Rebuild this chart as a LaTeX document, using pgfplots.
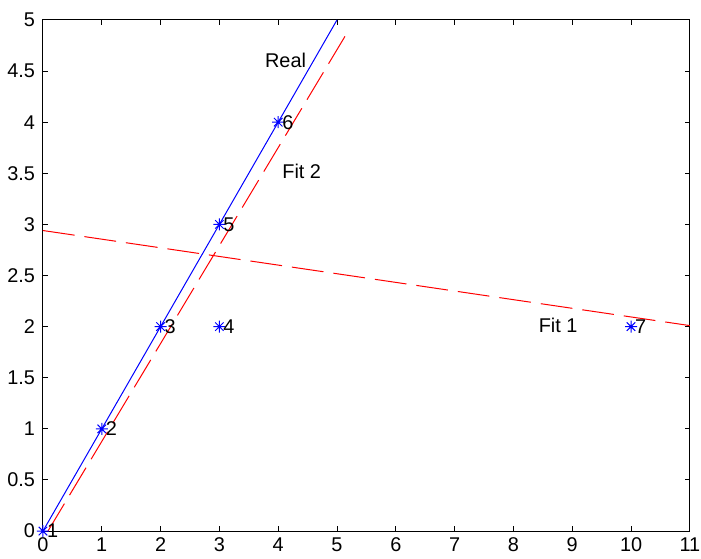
\documentclass[border=0pt]{standalone}
\usepackage{fontspec}
\setmainfont{Liberation Sans}
\usepackage{pgfplots}
\pgfplotsset{compat=1.18}
\pgfdeclareplotmark{mstar}{%
 \pgfpathmoveto{\pgfqpoint{-\pgfplotmarksize}{0pt}}\pgfpathlineto{\pgfqpoint{\pgfplotmarksize}{0pt}}%
 \pgfpathmoveto{\pgfqpoint{0pt}{-\pgfplotmarksize}}\pgfpathlineto{\pgfqpoint{0pt}{\pgfplotmarksize}}%
 \pgfpathmoveto{\pgfqpoint{-0.707\pgfplotmarksize}{-0.707\pgfplotmarksize}}\pgfpathlineto{\pgfqpoint{0.707\pgfplotmarksize}{0.707\pgfplotmarksize}}%
 \pgfpathmoveto{\pgfqpoint{-0.707\pgfplotmarksize}{0.707\pgfplotmarksize}}\pgfpathlineto{\pgfqpoint{0.707\pgfplotmarksize}{-0.707\pgfplotmarksize}}%
 \pgfusepathqstroke}
\begin{document}
\begin{tikzpicture}
\begin{axis}[
  scale only axis, width=324bp, height=256bp,
  xmin=0, xmax=11, ymin=0, ymax=5,
  xtick={0,1,2,3,4,5,6,7,8,9,10,11},
  ytick={0,0.5,1,1.5,2,2.5,3,3.5,4,4.5,5},
  tick align=inside, major tick length=2.5bp,
  axis line style={line width=0.5bp},
  every tick/.style={black, line width=0.5bp},
  tick label style={font=\fontsize{10}{12}\selectfont},
  xticklabel style={inner xsep=0pt},
  yticklabel style={inner ysep=0pt, xshift=-0.5bp},
  /pgf/number format/assume math mode=true,
  clip=false,
]
\addplot[blue, line width=0.5bp] coordinates {(0,0) (5,5)};
\addplot[red, line width=0.5bp, dash pattern=on 16bp off 5bp] coordinates {(0.085,0) (5.22,4.92)};
\addplot[red, line width=0.5bp, dash pattern=on 16bp off 5bp] coordinates {(0,2.94) (11,2.01)};
\addplot[only marks, mark=mstar, blue, mark size=3bp, line width=0.5bp,
  nodes near coords, point meta=explicit symbolic,
  nodes near coords style={anchor=west, black, inner sep=1.8bp, font=\fontsize{10}{12}\selectfont}]
  table[meta=label] {
x y label
0 0 1
1 1 2
2 2 3
3 2 4
3 3 5
4 4 6
10 2 7
};
\node[font=\fontsize{10}{12}\selectfont] at (axis cs:4.125,4.6) {Real};
\node[font=\fontsize{10}{12}\selectfont] at (axis cs:4.40,3.52) {Fit 2};
\node[font=\fontsize{10}{12}\selectfont] at (axis cs:8.76,2.01) {Fit 1};
\path (rel axis cs:-0.0664,-0.043) rectangle (rel axis cs:1.0172,1.039);
\end{axis}
\end{tikzpicture}
\end{document}
